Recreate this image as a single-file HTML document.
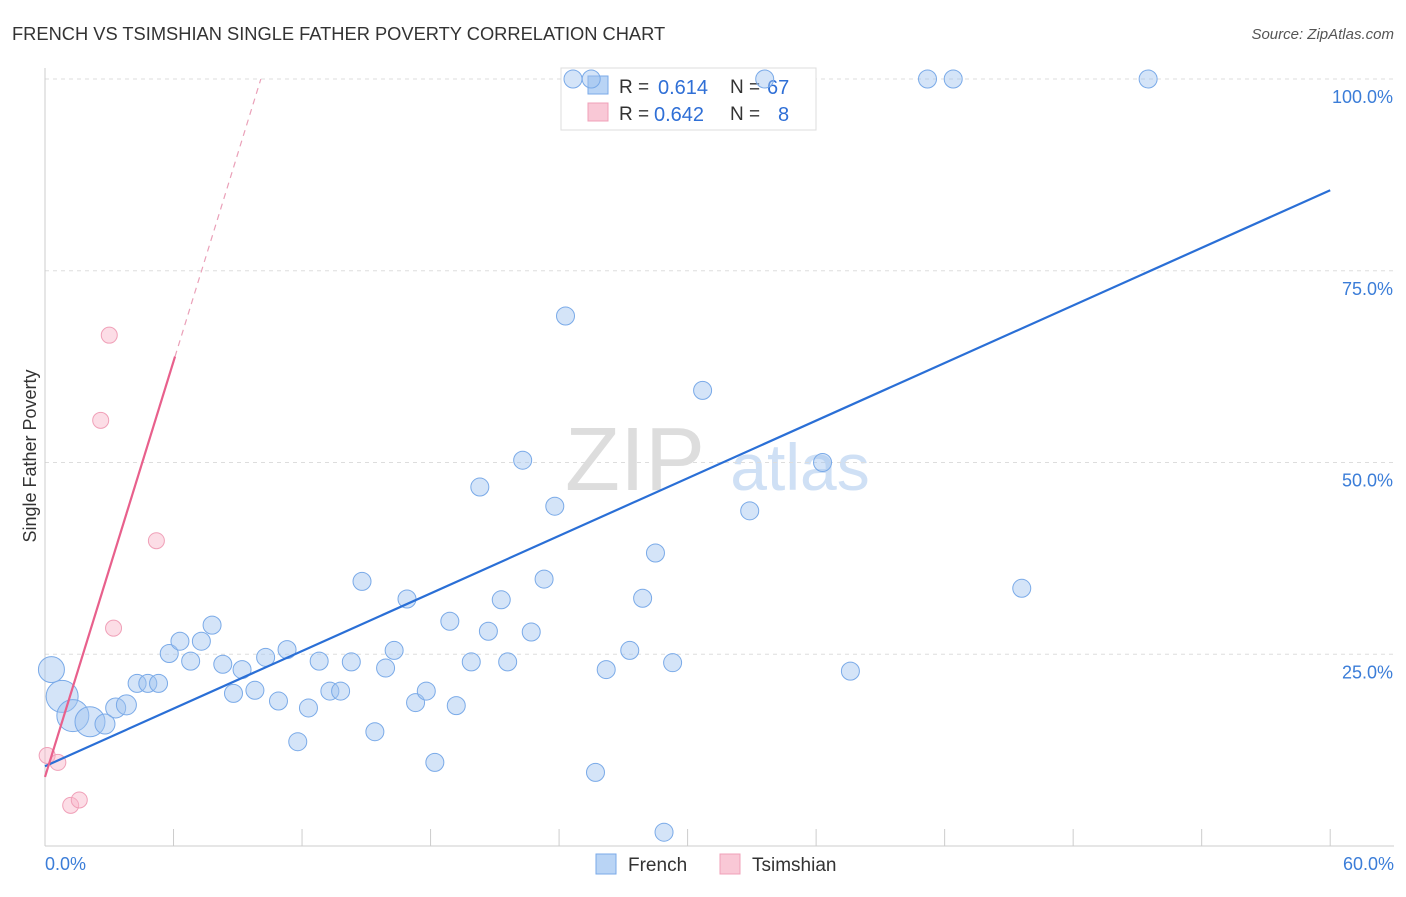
<!DOCTYPE html>
<html><head><meta charset="utf-8"><style>
body{margin:0;background:#fff;font-family:"Liberation Sans",sans-serif}
svg text{font-family:"Liberation Sans",sans-serif}
</style></head><body>
<svg id="c" width="1406" height="892">
<text x="12" y="40" font-size="18.3" fill="#333">FRENCH VS TSIMSHIAN SINGLE FATHER POVERTY CORRELATION CHART</text>
<text x="1394" y="39" font-size="15" fill="#555" text-anchor="end" font-style="italic">Source: ZipAtlas.com</text>
<text x="36" y="456" font-size="18" fill="#333" transform="rotate(-90 36 456)" text-anchor="middle">Single Father Poverty</text>
<g><text x="635" y="490" font-size="90" fill="#ddd" text-anchor="middle" font-family="Liberation Serif">ZIP</text><text x="800" y="490" font-size="66" fill="#cfe0f5" text-anchor="middle">atlas</text></g>
<g id="grid"></g>
<g>
<rect x="561" y="68" width="255" height="62" fill="#fff" stroke="#ddd"/>
<rect x="588" y="76" width="20" height="18" fill="#b9d4f5" stroke="#7aaae8"/>
<text x="619" y="93" font-size="19" fill="#333">R =</text><text x="658" y="94" font-size="20" fill="#2f6fd6">0.614</text>
<text x="730" y="93" font-size="19" fill="#333">N =</text><text x="767" y="94" font-size="20" fill="#2f6fd6">67</text>
<rect x="588" y="103" width="20" height="18" fill="#f9c8d6" stroke="#f0a0b8"/>
<text x="619" y="120" font-size="19" fill="#333">R =</text><text x="654" y="121" font-size="20" fill="#2f6fd6">0.642</text>
<text x="730" y="120" font-size="19" fill="#333">N =</text><text x="778" y="121" font-size="20" fill="#2f6fd6">8</text>
</g>
<g id="marks"></g>
<g>
<rect x="596" y="854" width="20" height="20" fill="#b9d4f5" stroke="#7aaae8"/><text x="628" y="871" font-size="19" fill="#333">French</text>
<rect x="720" y="854" width="20" height="20" fill="#f9c8d6" stroke="#f0a0b8"/><text x="752" y="871" font-size="19" fill="#333">Tsimshian</text>
</g>
</svg>
<script>
const frenchX=[0.3,0.8,1.3,2.1,2.8,3.3,3.8,4.3,4.8,5.3,5.8,6.3,6.8,7.3,7.8,8.3,8.8,9.2,9.8,10.3,10.9,11.3,11.8,12.3,12.8,13.3,13.8,14.3,14.8,15.4,15.9,16.3,16.9,17.3,17.8,18.2,18.9,19.2,19.9,20.3,20.7,21.3,21.6,22.3,22.7,23.3,23.8,24.3,24.65,25.5,25.7,26.2,27.3,27.9,28.5,28.9,29.3,30.7,32.9,33.6,36.3,37.6,41.2,42.4,45.6,51.5];
const frenchY=[23.0,19.5,17.0,16.2,15.9,18.0,18.4,21.2,21.2,21.2,25.1,26.7,24.1,26.7,28.8,23.7,19.9,23.0,20.3,24.6,18.9,25.6,13.6,18.0,24.1,20.2,20.2,24.0,34.5,14.9,23.2,25.5,32.2,18.7,20.2,10.9,29.3,18.3,24.0,46.8,28.0,32.1,24.0,50.3,27.9,34.8,44.3,69.1,100,100,9.6,23.0,25.5,32.3,38.2,1.8,23.9,59.4,43.7,100,50.0,22.8,100,100,33.6,100];
const frenchR=[13,16,16,15,10,10,10,9,9,9,9,9,9,9,9,9,9,9,9,9,9,9,9,9,9,9,9,9,9,9,9,9,9,9,9,9,9,9,9,9,9,9,9,9,9,9,9,9,9,9,9,9,9,9,9,9,9,9,9,9,9,9,9,9,9,9];
const tsimX=[0.1,0.6,1.2,1.6,2.6,3.0,3.2,5.2];
const tsimY=[11.8,10.9,5.3,6.0,55.5,66.6,28.4,39.8];
const xTicks=[0,6,12,18,24,30,36,42,48,54,60];
const yTicks=[25,50,75,100];
const blueFit=[10.4,85.5];
const pinkFit=[9.0,9.03];
const X=v=>45+v*21.42, Y=v=>846-v*7.67;
const NS="http://www.w3.org/2000/svg";
function mk(t,a,p){const e=document.createElementNS(NS,t);for(const k in a)e.setAttribute(k,a[k]);p.appendChild(e);return e;}
const g=document.getElementById('grid'),m=document.getElementById('marks');
yTicks.forEach(v=>{const l=mk('line',{x1:45,x2:1394,y1:Y(v),y2:Y(v),stroke:'#ddd','stroke-dasharray':'4,4'},g);


const t=mk('text',{x:1393,y:Y(v)+24,'font-size':18,fill:'#3b7dd8','text-anchor':'end'},g);t.textContent=v.toFixed(1)+'%';

});
mk('line',{x1:45,x2:45,y1:68,y2:846,stroke:'#ccc'},g);
mk('line',{x1:45,x2:1394,y1:846,y2:846,stroke:'#ccc'},g);
xTicks.forEach(v=>{const l=mk('line',{x1:X(v),x2:X(v),y1:829,y2:846,stroke:'#ccc'},g);

});
[[0,'0.0%',45,'start'],[60,'60.0%',1394,'end']].forEach(a=>{const t=mk('text',{x:a[2],y:870,'font-size':18,fill:'#3b7dd8','text-anchor':a[3]},g);t.textContent=a[1];

});
frenchX.forEach((x,i)=>{const c=mk('circle',{cx:X(x),cy:Y(frenchY[i]),r:frenchR[i],fill:'rgba(160,196,240,0.45)',stroke:'#7aaae8','stroke-width':1},m);

});
tsimX.forEach((x,i)=>{const c=mk('circle',{cx:X(x),cy:Y(tsimY[i]),r:8,fill:'rgba(248,180,200,0.45)',stroke:'#f0a0b8','stroke-width':1},m);

});
const bl=mk('line',{x1:X(0),y1:Y(blueFit[0]),x2:X(60),y2:Y(blueFit[1]),stroke:'#2a6fd6','stroke-width':2.2},m);


const pe=6.07,pz=(100-pinkFit[0])/pinkFit[1];
const pl=mk('line',{x1:X(0),y1:Y(pinkFit[0]),x2:X(pe),y2:Y(pinkFit[0]+pinkFit[1]*pe),stroke:'#e8608c','stroke-width':2.2},m);


const pd=mk('line',{x1:X(pe),y1:Y(pinkFit[0]+pinkFit[1]*pe),x2:X(pz),y2:Y(100),stroke:'#eaa0b8','stroke-width':1.2,'stroke-dasharray':'6,5'},m);


</script>
</body></html>
